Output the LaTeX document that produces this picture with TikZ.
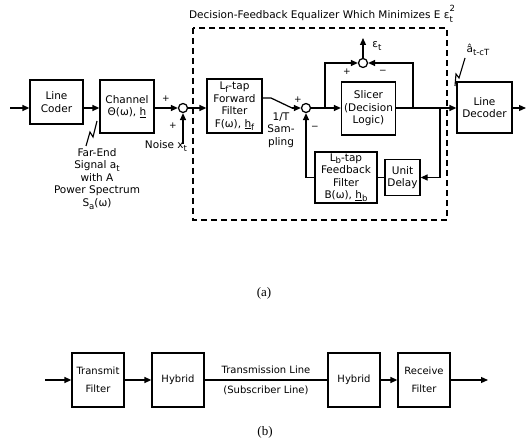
\documentclass[tikz,border=0pt]{standalone}
\usepackage{fontspec}
\setmainfont{DejaVu Sans}
\newfontfamily\capfont{Liberation Serif}
\usetikzlibrary{arrows.meta}
\newcommand\lsub[1]{\raisebox{-0.5ex}{\fontsize{8.5}{9}\selectfont #1}}
\begin{document}
\begin{tikzpicture}[x=1pt,y=-1pt,
  font=\fontsize{10.5}{12.5}\selectfont,
  blk/.style={draw, line width=1.25pt, align=center, inner sep=0pt},
  sumc/.style={draw, circle, line width=1.25pt, fill=white, minimum size=9pt, inner sep=0pt},
  ln/.style={line width=1.25pt},
  arr/.style={ln, -{Triangle[length=7pt,width=6pt]}},
  sgn/.style={font=\fontsize{9}{10}\selectfont, inner sep=0pt},
  lbl/.style={align=center, inner sep=0pt}
]
\useasboundingbox (0,0) rectangle (528,441);

% title and dashed region
\node[lbl] (title) at (321,14) {Decision-Feedback Equalizer Which Minimizes E ε\rlap{\raisebox{1.1ex}{\fontsize{8.5}{9}\selectfont 2}}\raisebox{-0.7ex}{\fontsize{8.5}{9}\selectfont t}};
\draw[line width=1.1pt, dash pattern=on 6pt off 4pt] (193,28) rectangle (447,220);

% blocks (a)
\node[blk, minimum width=53pt, minimum height=44pt] (lc) at (56.5,102) {Line\\Coder};
\node[blk, minimum width=54pt, minimum height=53pt] (ch) at (127,106.5) {Channel\\Θ(ω), \underline{h}};
\node[sumc] (s1) at (183,108) {};
\node[blk, minimum width=55pt, minimum height=54pt] (ff) at (234.5,106) {L\lsub{f}-tap\\Forward\\Filter\\F(ω), \underline{h}\lsub{f}};
\node[sumc] (s2) at (306,108) {};
\node[blk, minimum width=54pt, minimum height=53pt] (sl) at (368.5,108.5) {Slicer\\(Decision\\Logic)};
\node[sumc] (s3) at (363,63) {};
\node[blk, minimum width=55pt, minimum height=51pt] (ld) at (484.5,107.5) {Line\\Decoder};
\node[blk, minimum width=62pt, minimum height=51pt] (fb) at (346,177.5) {L\lsub{b}-tap\\Feedback\\Filter\\B(ω), \underline{h}\lsub{b}};
\node[blk, minimum width=35pt, minimum height=36pt] (ud) at (402.5,177.5) {Unit\\Delay};

% connectors (a)
\coordinate (in) at (10,108);
\draw[arr] (in) -- (in -| lc.west);
\draw[arr] (lc.east |- in) -- (ch.west |- in);
\draw[arr] (ch.east |- s1) -- (s1.west);
\coordinate (nz) at (183,144);
\draw[arr] (nz) -- (s1.south);
\draw[arr] (s1.east) -- (ff.west |- s1);
\coordinate (sw1) at (271,98);
\coordinate (sw2) at (292,108);
\draw[ln] (ff.east |- sw1) -- (sw1) -- (sw2);
\draw[arr] (sw2) -- (s2.west);
\draw[arr] (s2.east) -- (sl.west |- s2);
\coordinate (b1) at (325,108);
\draw[arr] (b1) |- (s3.west);
\coordinate (b2) at (413,108);
\draw[arr] (b2) |- (s3.east);
\coordinate (eps) at (363,38);
\draw[arr] (s3.north) -- (eps);
\coordinate (b3) at (440,108);
\draw[arr] (sl.east |- s2) -- (ld.west |- s2);
\draw[arr] (b3) |- (ud.east);
\draw[ln] (ud.west) -- (fb.east |- ud.west);
\draw[arr] (fb.west) -| (s2.south);
\coordinate (out) at (526,108);
\draw[arr] (ld.east |- s2) -- (out);

% pointer marks
\draw[line width=1.1pt] (86,146) -- (90,132) -- (93,137) -- (97,121);
\draw[line width=1.1pt] (455,86) -- (456,74) -- (459,78) -- (465,58);

% labels (a)
\node[sgn] (p1) at (166,99) {+};
\node[sgn] (p2) at (173,126) {+};
\node[sgn] (p3) at (298,100) {+};
\node[sgn] (m1) at (315,128) {−};
\node[sgn] (p4) at (347,72) {+};
\node[sgn] (m2) at (383,72) {−};
\node[lbl] (epsl) at (377,46) {ε\lsub{t}};
\node[lbl] (samp) at (281,130) {1/T\\Sam-\\pling};
\node[lbl] (noise) at (166,146) {Noise x\lsub{t}};
\node[lbl] (far) at (97,179) {Far-End\\Signal a\lsub{t}\\with A\\Power Spectrum\\S\lsub{a}(ω)};
\node[lbl] (ahat) at (478,50) {â\lsub{t-cT}};
\node[lbl, font=\capfont\fontsize{13}{15}\selectfont] (capa) at (264,293) {(a)};

% blocks (b)
\begin{scope}[font=\fontsize{10}{18}\selectfont]
\node[blk, minimum width=52pt, minimum height=54pt] (tf) at (98,380) {Transmit\\Filter};
\node[blk, minimum width=52pt, minimum height=54pt] (h1) at (178,380) {Hybrid};
\node[blk, minimum width=52pt, minimum height=54pt] (h2) at (354,380) {Hybrid};
\node[blk, minimum width=52pt, minimum height=54pt] (rf) at (424,380) {Receive\\Filter};
\coordinate (bin) at (45,380);
\coordinate (bout) at (488,380);
\draw[arr] (bin) -- (tf.west);
\draw[arr] (tf.east) -- (h1.west);
\draw[ln] (h1.east) -- (h2.west) node[midway, above=2pt] {Transmission Line} node[midway, below=2pt] {(Subscriber Line)};
\draw[arr] (h2.east) -- (rf.west);
\draw[arr] (rf.east) -- (bout);
\end{scope}
\node[lbl, font=\capfont\fontsize{13}{15}\selectfont] (capb) at (265,432) {(b)};
\end{tikzpicture}
\end{document}
